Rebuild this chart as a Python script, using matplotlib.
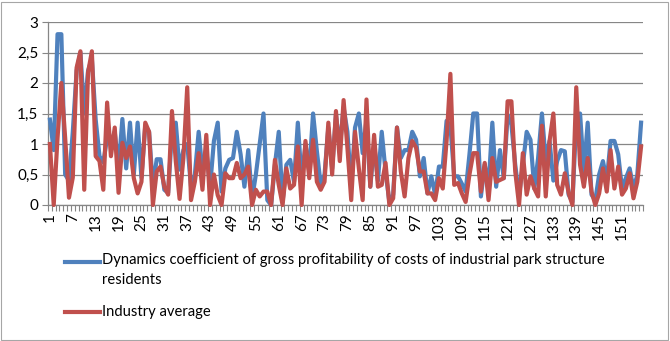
import numpy as np
import matplotlib
matplotlib.use("Agg")
import matplotlib.pyplot as plt
from matplotlib.lines import Line2D
from matplotlib.patches import Rectangle

plt.rcParams["font.family"] = ["Lato", "DejaVu Sans"]

# Данні
residents = [
    1.4, 0.9, 2.8, 2.8, 0.5, 0.4, 1.2, 2.2, 2.5, 1.5,
    2.2, 2.4, 1.4, 0.8, 0.7, 1.1, 1.0, 1.2, 0.6, 1.41,
    0.6, 1.35, 0.5, 1.35, 0.45, 1.3, 1.2, 0.3, 0.75, 0.75,
    0.25, 0.2, 1.2, 1.35, 0.58, 0.9, 1.0, 0.3, 0.5, 1.2,
    0.55, 0.9, 0.3, 1.05, 1.35, 0.22, 0.6, 0.74, 0.77, 1.2,
    0.83, 0.3, 0.9, 0.1, 0.5, 1.0, 1.5, 0.08, 0.0, 0.66,
    1.2, 0.05, 0.66, 0.74, 0.38, 1.35, 0.4, 1.0, 0.55, 1.5,
    0.88, 0.33, 0.5, 1.27, 0.6, 1.48, 0.94, 1.6, 1.2, 0.3,
    1.27, 1.5, 0.85, 1.4, 0.3, 1.0, 0.4, 1.2, 0.55, 0.05,
    0.17, 1.27, 0.77, 0.9, 0.9, 1.2, 1.07, 0.47, 0.77, 0.19,
    0.47, 0.17, 0.63, 0.63, 1.38, 1.3, 0.47, 0.47, 0.35, 0.22,
    0.83, 1.5, 1.5, 0.14, 0.66, 0.3, 1.35, 0.3, 0.9, 0.44,
    1.48, 1.32, 0.66, 0.15, 0.66, 1.2, 1.07, 0.27, 0.77, 1.5,
    0.72, 1.05, 0.4, 0.72, 0.9, 0.88, 0.17, 0.05, 1.38, 1.5,
    0.55, 1.35, 0.17, 0.08, 0.5, 0.72, 0.4, 1.05, 1.05, 0.83,
    0.27, 0.44, 0.6, 0.27, 0.49, 1.35,
]
industry = [
    1.0, 0.0, 1.1, 2.0, 1.1, 0.12, 0.45, 2.25, 2.52, 0.25,
    2.17, 2.52, 0.8, 0.72, 0.25, 1.68, 0.8, 1.27, 0.2, 1.02,
    0.77, 0.96, 0.44, 0.19, 0.38, 1.35, 1.2, 0.0, 0.55, 0.63,
    0.3, 0.17, 1.54, 0.72, 0.1, 0.77, 1.93, 0.08, 0.38, 0.85,
    0.25, 1.15, 0.0, 0.5, 0.16, 0.0, 0.52, 0.44, 0.44, 0.69,
    0.44, 0.5, 0.63, 0.0, 0.25, 0.14, 0.22, 0.22, 0.0, 0.74,
    0.33, 0.0, 0.6, 0.27, 0.33, 0.96, 0.0, 1.05, 0.44, 1.07,
    0.38, 0.25, 0.38, 1.35, 0.5, 1.54, 0.72, 1.72, 0.94, 0.08,
    1.2, 0.6, 0.08, 1.73, 0.3, 1.15, 0.3, 0.33, 0.69, 0.0,
    0.11, 1.27, 0.55, 0.14, 0.77, 1.05, 0.94, 0.55, 0.55, 0.19,
    0.19, 0.08, 0.44, 0.27, 1.05, 2.15, 0.33, 0.36, 0.19, 0.05,
    0.5, 0.85, 0.85, 0.22, 0.69, 0.08, 0.77, 0.38, 0.41, 0.44,
    1.7, 1.7, 0.55, 0.0, 0.85, 0.17, 0.47, 0.27, 0.14, 1.3,
    0.14, 1.05, 1.5, 0.33, 0.17, 0.52, 0.2, 0.0, 1.93, 0.66,
    0.3, 0.77, 0.22, 0.0, 0.19, 0.6, 0.22, 0.9, 0.27, 0.63,
    0.17, 0.27, 0.52, 0.11, 0.38, 0.96,
]
label_residents = ("Dynamics coefficient of gross profitability of costs of industrial park structure\n"
                   "residents")
label_industry = "Industry average"

BLUE = "#4F81BD"
RED = "#C0504D"
GRID = "#868686"

x = np.arange(1, len(residents) + 1)

fig = plt.figure(figsize=(6.7, 3.41), dpi=100)
ax = fig.add_axes([48 / 670, 1 - 205 / 341, 595 / 670, 183 / 341])

ax.plot(x, residents, color=BLUE, lw=3, solid_joinstyle="round", clip_on=False, zorder=3)
ax.plot(x, industry, color=RED, lw=3, solid_joinstyle="round", clip_on=False, zorder=4)

ax.set_xlim(0.5, len(x) + 0.5)
ax.set_ylim(0, 3)

yt = np.arange(0, 3.01, 0.5)
ax.set_yticks(yt)
ax.set_yticklabels([("%g" % v).replace(".", ",") for v in yt], fontsize=11)
ax.yaxis.grid(True, color=GRID, lw=0.9)
ax.set_axisbelow(True)

xt = np.arange(1, len(x) + 1, 6)
ax.set_xticks(xt)
ax.set_xticklabels([str(v) for v in xt], rotation=90, fontsize=11)
ax.set_xticks(np.arange(0.5, len(x) + 1, 1), minor=True)
ax.tick_params(axis="x", which="major", length=0, pad=6)
ax.tick_params(axis="x", which="minor", length=4, color=GRID, width=0.8)
ax.tick_params(axis="y", length=4, color=GRID, width=0.8, pad=3)

for s in ["top", "right"]:
    ax.spines[s].set_visible(False)
for s in ["left", "bottom"]:
    ax.spines[s].set_color(GRID)
    ax.spines[s].set_linewidth(0.9)

# Легенда під графіком
fig.add_artist(Line2D([65 / 670, 100 / 670], [1 - 262 / 341] * 2, color=BLUE, lw=3))
fig.add_artist(Line2D([65 / 670, 100 / 670], [1 - 312 / 341] * 2, color=RED, lw=3))
t1 = fig.text(102 / 670, 1 - 253 / 341, label_residents, fontsize=11, va="top", linespacing=1.5)
t2 = fig.text(102 / 670, 1 - 312 / 341, label_industry, fontsize=11, va="center")

# підгонка розміру шрифту під ширину тексту в оригіналі (~500 px)
r = fig.canvas.get_renderer()
w = t1.get_window_extent(r).width
fs = 11 * 500 / w
t1.set_fontsize(fs)
t2.set_fontsize(fs)

fig.add_artist(Rectangle((1 / 670, 1 / 341), 667 / 670, 338 / 341, fill=False,
                         edgecolor="#A6A6A6", lw=0.8, transform=fig.transFigure))

fig.savefig("out.png", dpi=100)
